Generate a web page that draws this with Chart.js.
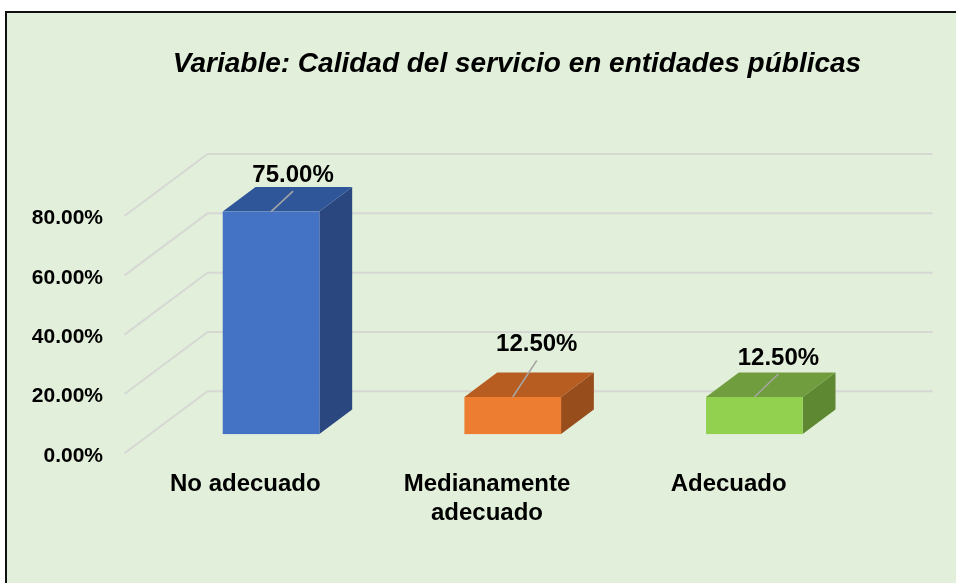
<!DOCTYPE html>
<html><head><meta charset="utf-8">
<script src="https://cdn.jsdelivr.net/npm/chart.js@4.4.1/dist/chart.umd.min.js"></script>
<style>
html,body{margin:0;padding:0;background:#fff;overflow:hidden;width:956px;height:583px;}
#frame{position:absolute;left:5px;top:11px;width:1000px;height:700px;background:#E2EFDA;border:2px solid #111;}
#wrap{position:absolute;left:0;top:0;width:956px;height:583px;}
</style></head><body>
<div id="frame"></div>
<div id="wrap"><canvas id="c" width="956" height="583"></canvas></div>
<script>
// ---- data ----
const categories = ['No adecuado', ['Medianamente', 'adecuado'], 'Adecuado'];
const values = [75, 12.5, 12.5];
const yTickValues = [0, 20, 40, 60, 80];
const titleText = 'Variable: Calidad del servicio en entidades públicas';

// ---- styles ----
const FONT = "'Liberation Sans', Arial, Helvetica, sans-serif";
const faceColors = [
  { front: '#4472C4', top: '#30569A', side: '#2A4780' },
  { front: '#ED7D31', top: '#B75D22', side: '#974D1C' },
  { front: '#92D050', top: '#709D3D', side: '#5E8832' }
];
const labelOffsets = [[22, -37.5], [24, -53.5], [24, -40]];
const DX = 83, DY = -62, FRONT = 0.31, DEPTH = 0.395;

const bars3d = {
  id: 'bars3d',
  beforeDatasetsDraw(chart) {
    const { ctx, chartArea: a, scales: { y } } = chart;
    ctx.save();
    ctx.strokeStyle = '#D6D8D3';
    ctx.lineWidth = 2;
    yTickValues.forEach(v => {
      const py = y.getPixelForValue(v);
      ctx.beginPath();
      ctx.moveTo(a.left, py);
      ctx.lineTo(a.left + DX, py + DY);
      ctx.lineTo(a.right + DX, py + DY);
      ctx.stroke();
    });
    ctx.restore();
  },
  afterDatasetsDraw(chart) {
    const { ctx } = chart;
    const meta = chart.getDatasetMeta(0);
    const fx = DX * FRONT, fy = DY * FRONT, bx = DX * DEPTH, by = DY * DEPTH;
    meta.data.forEach((el, i) => {
      const p = el.getProps(['x', 'y', 'base', 'width'], true);
      const c = faceColors[i];
      const x0 = p.x - p.width / 2 + fx, x1 = p.x + p.width / 2 + fx;
      const yt = p.y + fy, yb = p.base + fy;
      ctx.save();
      // side
      ctx.fillStyle = c.side;
      ctx.beginPath();
      ctx.moveTo(x1, yt); ctx.lineTo(x1 + bx, yt + by); ctx.lineTo(x1 + bx, yb + by); ctx.lineTo(x1, yb);
      ctx.closePath(); ctx.fill();
      // top
      ctx.fillStyle = c.top;
      ctx.beginPath();
      ctx.moveTo(x0, yt); ctx.lineTo(x1, yt); ctx.lineTo(x1 + bx, yt + by); ctx.lineTo(x0 + bx, yt + by);
      ctx.closePath(); ctx.fill();
      // front
      ctx.fillStyle = c.front;
      ctx.fillRect(x0, yt, x1 - x0, yb - yt);
      // leader line + label
      const cx = (x0 + x1) / 2;
      const lx = cx + labelOffsets[i][0], ly = yt + labelOffsets[i][1];
      ctx.strokeStyle = '#A6A6A6';
      ctx.lineWidth = 1.5;
      ctx.beginPath();
      ctx.moveTo(cx, yt);
      ctx.lineTo(lx, ly + 17);
      ctx.stroke();
      ctx.fillStyle = '#000';
      ctx.font = 'bold 24px ' + FONT;
      ctx.textAlign = 'center';
      ctx.textBaseline = 'middle';
      ctx.fillText(values[i].toFixed(2) + '%', lx, ly + 1);
      ctx.restore();
    });
  }
};

new Chart(document.getElementById('c'), {
  type: 'bar',
  data: {
    labels: categories,
    datasets: [{
      data: values,
      backgroundColor: 'rgba(0,0,0,0)',
      borderWidth: 0,
      barPercentage: 0.4,
      categoryPercentage: 1
    }]
  },
  plugins: [bars3d],
  options: {
    responsive: false,
    animation: false,
    devicePixelRatio: 1,
    layout: { padding: { left: 10, right: -68, top: 0, bottom: 0 } },
    plugins: {
      legend: { display: false },
      tooltip: { enabled: false },
      title: {
        display: true,
        text: titleText,
        color: '#000',
        font: { family: FONT, size: 28, weight: 'bold', style: 'italic', lineHeight: 1.2 },
        padding: { top: 47, bottom: 135.4 }
      }
    },
    scales: {
      x: {
        type: 'category',
        grid: { display: false, drawTicks: false },
        border: { display: false },
        ticks: {
          color: '#000',
          font: { family: FONT, size: 24, weight: 'bold', lineHeight: 1.22 },
          padding: 16,
          maxRotation: 0,
          autoSkip: false
        },
        afterFit(s) { s.height = 129.7; }
      },
      y: {
        type: 'linear',
        min: 0,
        max: 80,
        afterBuildTicks(s) { s.ticks = yTickValues.map(v => ({ value: v })); },
        ticks: {
          color: '#000',
          font: { family: FONT, size: 21, weight: 'bold' },
          padding: 21.5,
          labelOffset: 2.5,
          callback: v => Number(v).toFixed(2) + '%'
        },
        grid: { display: false, drawTicks: false },
        border: { display: false },
        afterFit(s) { s.width = 114.5; }
      },
      y2: {
        type: 'linear',
        position: 'right',
        display: true,
        ticks: { display: false },
        grid: { display: false, drawTicks: false },
        border: { display: false },
        afterFit(s) { s.width = 174.5; }
      }
    }
  }
});
</script>
</body></html>
